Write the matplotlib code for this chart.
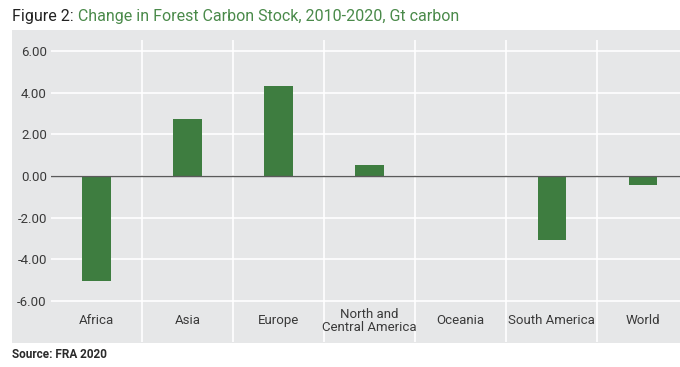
import matplotlib.pyplot as plt
from matplotlib.patches import Rectangle

# data
regions = ["Africa", "Asia", "Europe", "North and\nCentral America", "Oceania", "South America", "World"]
change = [-5.02, 2.74, 4.33, 0.53, -0.02, -3.06, -0.43]
yticks = [-6, -4, -2, 0, 2, 4, 6]

W, H = 680, 367
plt.rcParams['font.family'] = ['Roboto', 'DejaVu Sans']
fig = plt.figure(figsize=(W / 100, H / 100), dpi=100)

def fx(px):
    return px / W

def fy(py):
    return 1 - py / H

# grey panel behind the chart
fig.patches.append(Rectangle((fx(12), fy(343)), fx(680) - fx(12), fy(30) - fy(343),
                             transform=fig.transFigure, facecolor="#e6e7e8",
                             edgecolor="none", zorder=0))

ax = fig.add_axes([fx(51), fy(342), fx(680) - fx(51), fy(40) - fy(342)])
ax.set_zorder(2)
ax.set_facecolor("none")
ax.set_xlim(-0.5, 6.41)
ax.set_ylim(-7.97, 6.53)

x = range(len(regions))
for yv in yticks:
    ax.axhline(yv, color="white", lw=1.2, zorder=1)
for i in range(len(regions) - 1):
    ax.axvline(i + 0.5, color="white", lw=1.2, zorder=1)

ax.bar(x, change, width=0.31, color="#3e7d40", zorder=2)
ax.axhline(0, color="#5a5a5a", lw=1.0, zorder=3)

for s in ax.spines.values():
    s.set_visible(False)
ax.set_xticks([])
ax.set_yticks(yticks)
ax.set_yticklabels(["%.2f" % v for v in yticks], fontsize=9.5, color="#3a3a3a")
ax.tick_params(axis="y", length=0, pad=3)

for i, name in enumerate(regions):
    ax.text(i, -6.95, name, ha="center", va="center", fontsize=9.5, color="#3a3a3a",
            linespacing=0.95)

t1 = fig.text(fx(12), fy(16), "Figure 2: ", fontsize=11.5, color="#222222",
              va="center", ha="left")
ax.annotate("Change in Forest Carbon Stock, 2010-2020, Gt carbon", xy=(1, 0.5),
            xycoords=t1, va="center", ha="left", fontsize=11.5, color="#4a8a4a",
            annotation_clip=False)

fig.text(fx(12), fy(354), "Source: FRA 2020", fontsize=8.5, color="#2a2a2a",
         fontweight="bold", va="center", ha="left")

fig.savefig("out.png", dpi=100)
